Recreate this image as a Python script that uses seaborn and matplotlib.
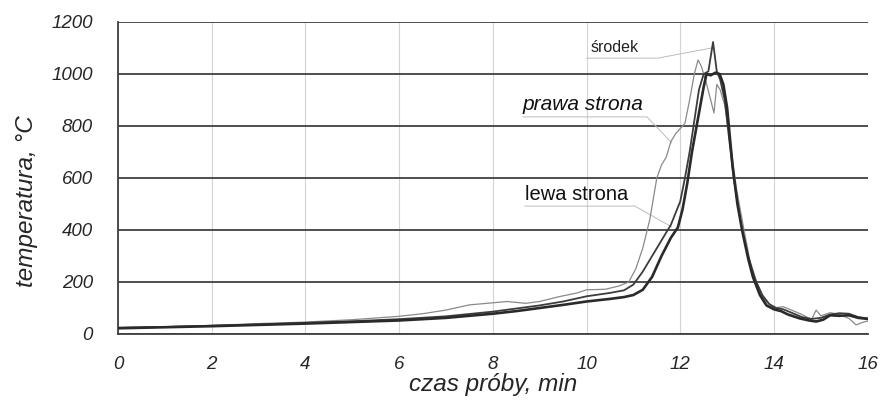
import numpy as np
import pandas as pd
import matplotlib
matplotlib.use("Agg")
import matplotlib.pyplot as plt
import seaborn as sns

# czas [min], temperatura [°C]
t_lewa = [0, 1, 2, 3, 4, 5, 6, 7, 8, 8.5, 9, 9.5, 10, 10.5, 10.8, 11.0, 11.2, 11.4,
          11.6, 11.8, 11.95, 12.05, 12.15, 12.25, 12.35, 12.45, 12.5, 12.56, 12.65,
          12.75, 12.84, 12.92, 13.0, 13.12, 13.22, 13.33, 13.45, 13.55, 13.7, 13.84,
          14.0, 14.15, 14.3, 14.55, 14.75, 14.9, 15.05, 15.2, 15.4, 15.6, 15.8, 16.0]
lewa = [22, 26, 30, 35, 40, 46, 52, 62, 78, 88, 100, 112, 125, 135, 142, 150, 170, 220,
        300, 370, 410, 480, 580, 700, 800, 900, 950, 1000, 995, 1005, 1000, 960, 870,
        640, 500, 390, 290, 220, 150, 110, 95, 88, 75, 60, 52, 48, 55, 72, 70, 72, 62, 58]

t_srodek = [0, 1, 2, 3, 4, 5, 6, 7, 8, 8.5, 9, 9.5, 10, 10.5, 10.8, 11.0, 11.2, 11.4,
            11.6, 11.8, 12.0, 12.1, 12.2, 12.3, 12.4, 12.5, 12.6, 12.7, 12.78, 12.85,
            12.95, 13.05, 13.15, 13.3, 13.45, 13.6, 13.75, 13.9, 14.05, 14.2, 14.4, 14.6,
            14.8, 15.0, 15.2, 15.4, 15.6, 15.8, 16.0]
srodek = [24, 27, 32, 37, 43, 49, 57, 68, 86, 98, 110, 125, 145, 158, 168, 190, 240, 300,
          360, 420, 510, 600, 700, 820, 940, 1000, 1010, 1123, 1010, 980, 900, 740, 590,
          420, 300, 210, 150, 115, 100, 95, 80, 65, 58, 62, 75, 80, 78, 65, 60]

t_prawa = [0, 1, 2, 3, 4, 5, 6, 6.5, 7, 7.5, 8, 8.3, 8.7, 9, 9.4, 9.8, 10, 10.4, 10.7,
           10.9, 11.05, 11.2, 11.35, 11.5, 11.6, 11.7, 11.8, 11.9, 12.0, 12.1, 12.2, 12.3,
           12.38, 12.45, 12.55, 12.65, 12.72, 12.78, 12.85, 12.95, 13.05, 13.2, 13.35,
           13.5, 13.65, 13.8, 14.0, 14.2, 14.4, 14.6, 14.8, 14.9, 15.0, 15.2, 15.4, 15.6,
           15.75, 15.9, 16.0]
prawa = [25, 28, 33, 40, 46, 55, 68, 78, 92, 112, 120, 125, 118, 125, 143, 158, 170, 172,
         185, 200, 250, 330, 440, 600, 650, 680, 740, 770, 790, 810, 900, 1000, 1054, 1030,
         970, 900, 850, 960, 940, 880, 760, 560, 410, 270, 190, 130, 100, 105, 90, 75, 55,
         92, 70, 82, 75, 60, 35, 45, 50]

x_ticks = [0, 2, 4, 6, 8, 10, 12, 14, 16]
y_ticks = [0, 200, 400, 600, 800, 1000, 1200]

sns.set_style("white")
plt.rcParams['font.family'] = ['Liberation Sans', 'DejaVu Sans']

fig, ax = plt.subplots(figsize=(8.8, 4.0), dpi=100)
fig.subplots_adjust(left=0.134, right=0.986, bottom=0.165, top=0.945)

for x in x_ticks:
    ax.axvline(x, color='#d4d4d4', lw=0.8, zorder=0)
for y in y_ticks:
    ax.axhline(y, color='#404040', lw=1.3, zorder=1)

df_p = pd.DataFrame({'t': t_prawa, 'T': prawa})
df_s = pd.DataFrame({'t': t_srodek, 'T': srodek})
df_l = pd.DataFrame({'t': t_lewa, 'T': lewa})
sns.lineplot(data=df_p, x='t', y='T', ax=ax, color='#8a8a8a', lw=0.9, estimator=None, zorder=3)
sns.lineplot(data=df_s, x='t', y='T', ax=ax, color='#3c3c3c', lw=1.3, estimator=None, zorder=4)
sns.lineplot(data=df_l, x='t', y='T', ax=ax, color='#2a2a2a', lw=1.9, estimator=None, zorder=5)

# podpisy z liniami odniesienia
lc = '#bcbcbc'
ax.plot([10.0, 11.52, 12.67], [1061, 1061, 1100], color=lc, lw=0.7, zorder=2)
ax.text(10.08, 1072, 'środek', fontsize=11.5, color='#222222', va='bottom')
ax.plot([8.64, 11.29, 11.82], [835, 835, 735], color=lc, lw=0.7, zorder=2)
ax.text(8.64, 845, 'prawa strona', fontsize=15, style='italic', color='#111111', va='bottom')
ax.plot([8.68, 11.03, 11.82], [492, 492, 412], color=lc, lw=0.7, zorder=2)
ax.text(8.68, 500, 'lewa strona', fontsize=14.5, color='#111111', va='bottom')

ax.set_xlim(0, 16)
ax.set_ylim(0, 1200)
ax.set_xticks(x_ticks)
ax.set_yticks(y_ticks)
ax.set_xticklabels([str(v) for v in x_ticks], fontsize=13.5, style='italic')
ax.set_yticklabels([str(v) for v in y_ticks], fontsize=13.5, style='italic')
ax.tick_params(axis='x', direction='out', length=12, width=1.3, color='#404040', pad=4)
ax.tick_params(axis='y', direction='out', length=15, width=1.3, color='#404040', pad=3)
ax.set_xlabel('czas próby, min', fontsize=17.5, style='italic', labelpad=0)
ax.set_ylabel('temperatura, °C', fontsize=17.5, style='italic')
ax.yaxis.set_label_coords(-0.106, 0.426)

for s in ['top', 'right']:
    ax.spines[s].set_visible(False)
ax.spines['left'].set_color('#404040')
ax.spines['left'].set_linewidth(1.3)
ax.spines['bottom'].set_color('#404040')
ax.spines['bottom'].set_linewidth(1.3)

fig.savefig('out.png', dpi=100)
